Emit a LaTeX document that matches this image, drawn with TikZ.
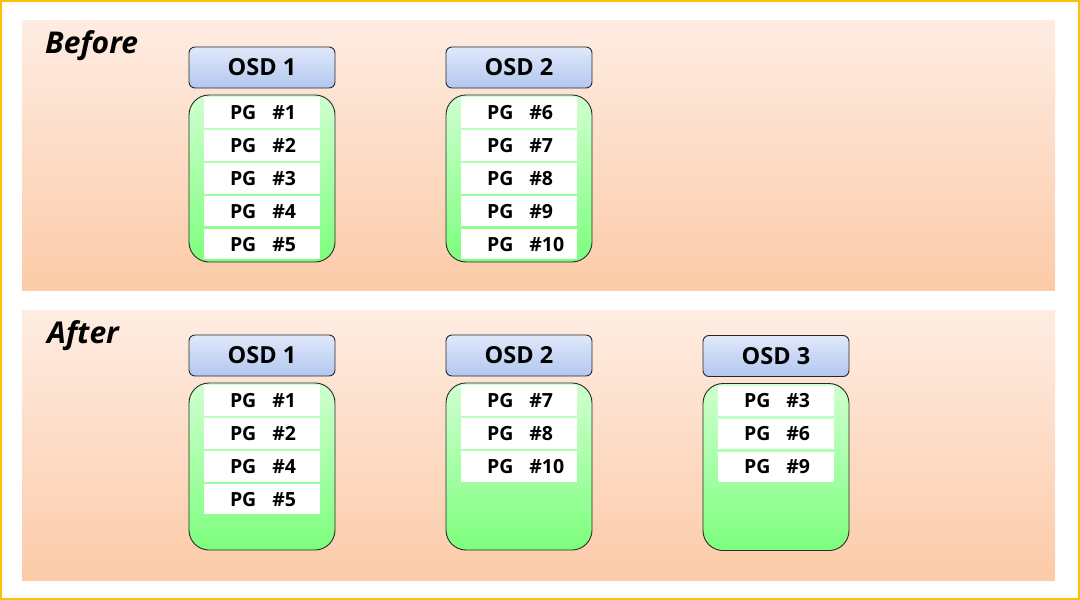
\documentclass[tikz,border=0pt]{standalone}
\usepackage{fontspec}
\setmainfont{Open Sans}
\usetikzlibrary{positioning}

\definecolor{peachtop}{RGB}{254,236,226}
\definecolor{peachbot}{RGB}{252,203,168}
\definecolor{greentop}{RGB}{208,255,208}
\definecolor{greenbot}{RGB}{124,255,124}
\definecolor{bluetop}{RGB}{224,233,250}
\definecolor{bluebot}{RGB}{178,198,240}
\definecolor{frameyellow}{RGB}{255,192,0}
\definecolor{edgegray}{RGB}{40,40,40}

\newcommand\pgrow[1]{\makebox[64pt][l]{PG\hspace{16pt}\##1}}

\begin{document}
\begin{tikzpicture}[x=1pt, y=-1pt,
    panel/.style={top color=peachtop, bottom color=peachbot, draw=none},
    osd/.style={draw=edgegray, line width=0.9pt, top color=bluetop, bottom color=bluebot, minimum width=146pt, minimum height=41pt, rounded corners=6pt, inner sep=0pt, font=\fontsize{23.5}{28}\selectfont\bfseries},
    store/.style={draw=edgegray, line width=0.9pt, top color=greentop, bottom color=greenbot, minimum width=146pt, minimum height=167pt, rounded corners=20pt, inner sep=0pt},
    pg/.style={fill=white, minimum width=116pt, minimum height=30.5pt, inner sep=0pt, font=\fontsize{19.5}{23}\selectfont\bfseries},
    phase/.style={anchor=base west, inner sep=0pt, font=\fontsize{30}{36}\selectfont\bfseries\itshape}
]
    \useasboundingbox (0,0) rectangle (1080,600);
    \draw[frameyellow, line width=2pt] (1,1) rectangle (1079,599);

    % Panels
    \fill[panel] (22,20) rectangle (1055,290);
    \fill[panel] (22,310) rectangle (1055,580);
    \node[phase] (before) at (45,53) {Before};
    \node[phase] (after) at (47,343) {After};

    % Before
    \node[osd] (b1) at (262,67.5) {OSD 1};
    \node[osd] (b2) at (519,67.5) {OSD 2};
    \node[store] (bs1) at (262,178.5) {};
    \node[store] (bs2) at (519,178.5) {};

    \node[pg, below=2.5pt of bs1.north] (b1r1) {\pgrow{1}};
    \node[pg, below=2pt of b1r1] (b1r2) {\pgrow{2}};
    \node[pg, below=2pt of b1r2] (b1r3) {\pgrow{3}};
    \node[pg, below=2pt of b1r3] (b1r4) {\pgrow{4}};
    \node[pg, below=2pt of b1r4] (b1r5) {\pgrow{5}};

    \node[pg, below=2.5pt of bs2.north] (b2r1) {\pgrow{6}};
    \node[pg, below=2pt of b2r1] (b2r2) {\pgrow{7}};
    \node[pg, below=2pt of b2r2] (b2r3) {\pgrow{8}};
    \node[pg, below=2pt of b2r3] (b2r4) {\pgrow{9}};
    \node[pg, below=2pt of b2r4] (b2r5) {\pgrow{10}};

    % After
    \node[osd] (a1) at (262,355.5) {OSD 1};
    \node[osd] (a2) at (519,355.5) {OSD 2};
    \node[osd] (a3) at (776,356) {OSD 3};
    \node[store] (as1) at (262,466.5) {};
    \node[store] (as2) at (519,466.5) {};
    \node[store] (as3) at (776,467) {};

    \node[pg, below=2.5pt of as1.north] (a1r1) {\pgrow{1}};
    \node[pg, below=2pt of a1r1] (a1r2) {\pgrow{2}};
    \node[pg, below=2pt of a1r2] (a1r3) {\pgrow{4}};
    \node[pg, below=2pt of a1r3] (a1r4) {\pgrow{5}};

    \node[pg, below=2.5pt of as2.north] (a2r1) {\pgrow{7}};
    \node[pg, below=2pt of a2r1] (a2r2) {\pgrow{8}};
    \node[pg, below=2pt of a2r2] (a2r3) {\pgrow{10}};

    \node[pg, below=2.5pt of as3.north] (a3r1) {\pgrow{3}};
    \node[pg, below=2pt of a3r1] (a3r2) {\pgrow{6}};
    \node[pg, below=2pt of a3r2] (a3r3) {\pgrow{9}};
\end{tikzpicture}
\end{document}
